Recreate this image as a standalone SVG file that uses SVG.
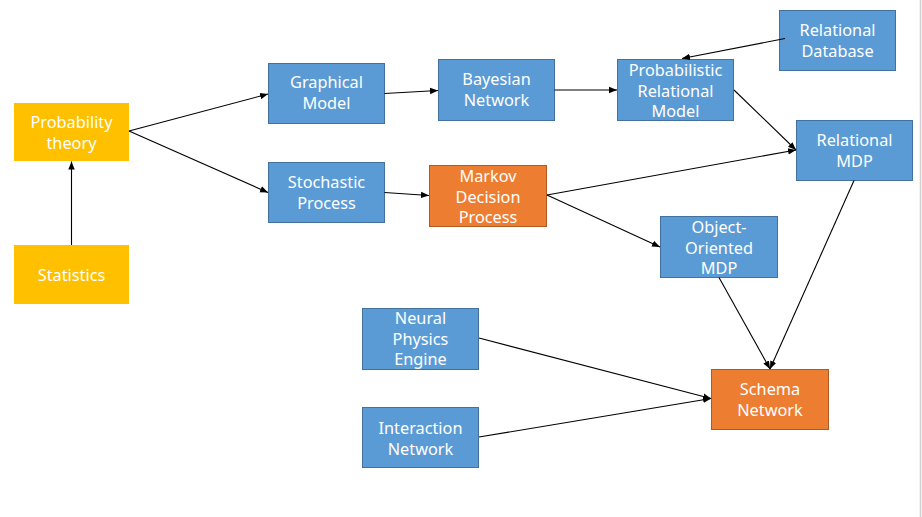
<svg xmlns="http://www.w3.org/2000/svg" width="922" height="517" viewBox="0 0 922 517">
<defs>
<marker id="ah" viewBox="0 0 10 10" refX="10" refY="5" markerWidth="8" markerHeight="8" markerUnits="userSpaceOnUse" orient="auto">
<path d="M0,1 L10,5 L0,9 z" fill="#000"/>
</marker>
</defs>
<style>
.y{fill:#FFC000}
.b{fill:#5B9BD5;stroke:#41719C;stroke-width:1}
.o{fill:#ED7D31;stroke:#AE5A21;stroke-width:1}
text{font-family:"Noto Sans","DejaVu Sans",sans-serif;font-size:16.3px;fill:#fff;text-anchor:middle}
.c line{stroke:#000;stroke-width:1.1;marker-end:url(#ah)}
</style>
<rect width="922" height="517" fill="#fff"/>
<line x1="920.5" y1="0" x2="920.5" y2="517" stroke="#CFCFCF" stroke-width="1.5"/>
<g id="prob"><rect class="y" x="14" y="103" width="115" height="58"/><text x="71.5" y="128">Probability</text><text x="71.5" y="149">theory</text></g>
<g id="stat"><rect class="y" x="14" y="245" width="115" height="59"/><text x="71.5" y="281">Statistics</text></g>
<g id="graph"><rect class="b" x="268.5" y="63.5" width="116" height="60"/><text x="326.5" y="88">Graphical</text><text x="326.5" y="109">Model</text></g>
<g id="bayes"><rect class="b" x="438.5" y="59.5" width="116" height="61"/><text x="496.5" y="85">Bayesian</text><text x="496.5" y="106">Network</text></g>
<g id="prm"><rect class="b" x="617.5" y="59.5" width="116" height="61"/><text x="675.5" y="76">Probabilistic</text><text x="675.5" y="97">Relational</text><text x="675.5" y="117">Model</text></g>
<g id="rdb"><rect class="b" x="779.5" y="10.5" width="116" height="60"/><text x="837.5" y="36">Relational</text><text x="837.5" y="57">Database</text></g>
<g id="rmdp"><rect class="b" x="796.5" y="120.5" width="116" height="60"/><text x="854.5" y="146">Relational</text><text x="854.5" y="167">MDP</text></g>
<g id="stoch"><rect class="b" x="268.5" y="162.5" width="116" height="60"/><text x="326.5" y="188">Stochastic</text><text x="326.5" y="209">Process</text></g>
<g id="mdp"><rect class="o" x="429.5" y="165.5" width="117" height="61"/><text x="488" y="182">Markov</text><text x="488" y="203">Decision</text><text x="488" y="223">Process</text></g>
<g id="oomdp"><rect class="b" x="660.5" y="216.5" width="117" height="61"/><text x="719" y="233">Object-</text><text x="719" y="254">Oriented</text><text x="719" y="274">MDP</text></g>
<g id="npe"><rect class="b" x="362.5" y="308.5" width="116" height="61"/><text x="420.5" y="324">Neural</text><text x="420.5" y="345">Physics</text><text x="420.5" y="365">Engine</text></g>
<g id="inet"><rect class="b" x="362.5" y="407.5" width="116" height="60"/><text x="420.5" y="434">Interaction</text><text x="420.5" y="455">Network</text></g>
<g id="schema"><rect class="o" x="711.5" y="369.5" width="117" height="60"/><text x="770" y="395">Schema</text><text x="770" y="416">Network</text></g>
<g class="c" id="connectors">
<line x1="71.5" y1="245" x2="71.5" y2="161.5"/>
<line x1="129" y1="131" x2="268" y2="94"/>
<line x1="129" y1="131" x2="268" y2="192.5"/>
<line x1="384.5" y1="93.5" x2="438" y2="90.5"/>
<line x1="554.5" y1="90" x2="617" y2="90"/>
<line x1="785" y1="38.5" x2="682" y2="58.5"/>
<line x1="734" y1="90" x2="796" y2="150"/>
<line x1="547" y1="195" x2="796" y2="150"/>
<line x1="547" y1="195" x2="660" y2="247"/>
<line x1="384.5" y1="192.5" x2="429" y2="195.5"/>
<line x1="854" y1="180.5" x2="770" y2="369"/>
<line x1="719" y1="277.5" x2="770" y2="369"/>
<line x1="479" y1="338" x2="711" y2="398.5"/>
<line x1="479" y1="437" x2="711" y2="398.5"/>
</g>
</svg>
